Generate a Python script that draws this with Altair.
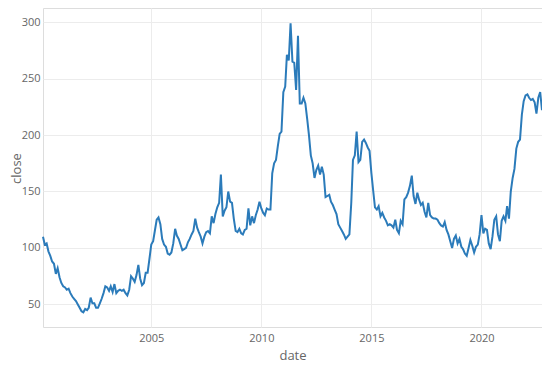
import altair as alt
import pandas as pd

# Monthly close values (Feb 2000 .. Oct 2022)
close_2000 = [110, 103, 104, 97, 93, 88, 86, 77, 82, 74, 69]
close_2001 = [66, 65, 63, 64, 60, 57, 55, 53, 50, 47, 44, 43]
close_2002 = [46, 45, 47, 56, 51, 51, 47, 47, 51, 55, 60, 66]
close_2003 = [65, 62, 66, 61, 68, 60, 62, 63, 62, 63, 60, 58]
close_2004 = [63, 75, 73, 70, 76, 85, 73, 67, 69, 78, 78, 90]
close_2005 = [103, 106, 115, 125, 127, 121, 108, 103, 101, 95, 94, 96]
close_2006 = [104, 117, 111, 108, 103, 98, 99, 100, 105, 108, 112, 115]
close_2007 = [126, 118, 114, 110, 104, 110, 114, 115, 113, 128, 122, 130]
close_2008 = [136, 140, 165, 128, 133, 136, 150, 141, 140, 126, 115, 114]
close_2009 = [117, 113, 112, 116, 117, 135, 120, 128, 122, 129, 134, 141]
close_2010 = [135, 131, 129, 135, 134, 134, 166, 175, 178, 190, 201, 203]
close_2011 = [238, 243, 271, 266, 299, 265, 264, 240, 288, 228, 228, 233]
close_2012 = [228, 214, 200, 182, 175, 162, 169, 173, 165, 172, 165, 145]
close_2013 = [146, 147, 141, 138, 134, 130, 121, 118, 115, 112, 108, 110]
close_2014 = [112, 140, 178, 182, 203, 176, 178, 194, 196, 193, 189, 186]
close_2015 = [166, 150, 136, 134, 137, 128, 131, 127, 124, 120, 121, 120]
close_2016 = [118, 125, 116, 113, 124, 121, 143, 145, 149, 155, 164, 146]
close_2017 = [139, 149, 143, 138, 140, 132, 127, 140, 129, 127, 126, 126]
close_2018 = [125, 122, 120, 119, 123, 116, 112, 106, 100, 108, 111, 104]
close_2019 = [108, 101, 99, 95, 93, 100, 107, 102, 96, 101, 103, 112]
close_2020 = [129, 113, 117, 116, 104, 99, 110, 125, 128, 112, 106, 124]
close_2021 = [128, 124, 137, 126, 150, 162, 170, 188, 194, 196, 218, 230]
close_2022 = [235, 236, 233, 231, 232, 229, 219, 233, 238, 222]

start_month = "2000-02-01"
x_tick_years = [2005, 2010, 2015, 2020]
y_ticks = [50, 100, 150, 200, 250, 300]
y_domain = [30, 312.5]

close = (close_2000 + close_2001 + close_2002 + close_2003 + close_2004 + close_2005
         + close_2006 + close_2007 + close_2008 + close_2009 + close_2010 + close_2011
         + close_2012 + close_2013 + close_2014 + close_2015 + close_2016 + close_2017
         + close_2018 + close_2019 + close_2020 + close_2021 + close_2022)
dates = pd.date_range(start=start_month, periods=len(close), freq="MS")
df = pd.DataFrame({"date": dates.strftime("%Y-%m-%d"), "close": close})

font = "Open Sans"

chart = alt.Chart(df).mark_line(color="#2b7bba", strokeWidth=2).encode(
    x=alt.X(
        "date:T",
        title="date",
        scale=alt.Scale(
            domain=[alt.DateTime(year=2000, month=2, date=1),
                    alt.DateTime(year=2022, month=10, date=1)],
            nice=False,
        ),
        axis=alt.Axis(
            values=[alt.DateTime(year=y, month=1, date=1) for y in x_tick_years],
            format="%Y",
            domain=False,
            ticks=False,
            labelPadding=5,
            labelFontSize=11,
            labelColor="#666666",
            labelFont=font,
            titleFont=font,
            titleFontSize=13,
            titleFontWeight="normal",
            titleColor="#666666",
            titlePadding=6,
            gridColor="#ececec",
            labelFlush=False,
        ),
    ),
    y=alt.Y(
        "close:Q",
        title="close",
        scale=alt.Scale(domain=y_domain, nice=False, zero=False),
        axis=alt.Axis(
            values=y_ticks,
            domain=False,
            ticks=False,
            labelPadding=3,
            labelFontSize=11,
            labelColor="#666666",
            labelFont=font,
            titleFont=font,
            titleFontSize=13,
            titleFontWeight="normal",
            titleColor="#666666",
            titleX=-27,
            titleY=160,
            titleAngle=-90,
            titleAlign="center",
            titleBaseline="middle",
            gridColor="#ececec",
        ),
    ),
).properties(
    width=499,
    height=319,
    autosize=alt.AutoSizeParams(type="none"),
    padding={"left": 35, "top": 0, "right": 0, "bottom": 38},
).configure_view(stroke=None).configure(background="white")

chart.save("out.html", embed_options={"renderer": "svg", "actions": False})
